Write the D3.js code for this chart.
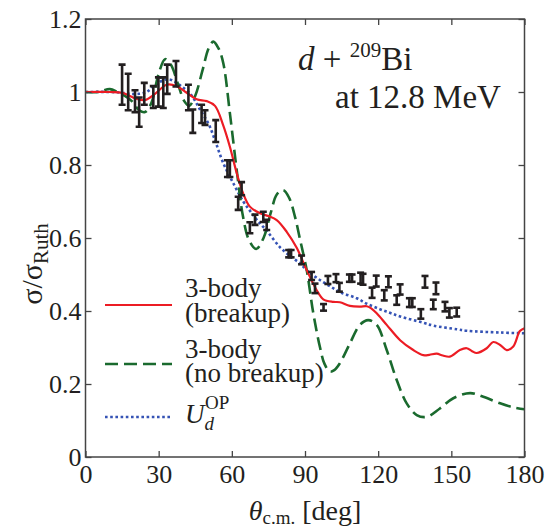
<!DOCTYPE html>
<html>
<head>
<meta charset="utf-8">
<script src="https://cdn.jsdelivr.net/npm/d3@7"></script>
<style>
  body { margin: 0; background: #fff; }
  svg text { font-family: "Liberation Serif", "DejaVu Serif", serif; fill: #231f20; }
</style>
</head>
<body>
<div id="chart"></div>
<script>
// angle ticks and value ticks
var xTicks = [0, 30, 60, 90, 120, 150, 180];
var yTicks = [0, 0.2, 0.4, 0.6, 0.8, 1, 1.2];

// 3-body with breakup [theta, sigma/sigmaRuth]
var breakupCurve = [[0, 1.0], [10, 1.0], [15, 0.998], [18, 0.99], [20.3, 0.983], [24.4, 0.978],
  [28.5, 0.995], [33.3, 1.02], [37.4, 1.016], [41.5, 0.998], [45.6, 0.98], [49.7, 0.975],
  [53.1, 0.962], [56.4, 0.91], [59.2, 0.85], [62, 0.778], [64.6, 0.723], [67.4, 0.686],
  [71.5, 0.668], [75, 0.66], [78.4, 0.649], [82.5, 0.617], [86.6, 0.573], [90.7, 0.512],
  [94.8, 0.457], [97.5, 0.432], [101.6, 0.425], [104.3, 0.424], [108.4, 0.414], [112.5, 0.412],
  [115.3, 0.413], [117, 0.408], [119.4, 0.394], [123.5, 0.362], [129, 0.32], [134.4, 0.293],
  [138.5, 0.279], [141, 0.28], [144, 0.283], [146.5, 0.278], [149.4, 0.275], [153.5, 0.293],
  [156.3, 0.298], [158.5, 0.29], [160.4, 0.285], [164.5, 0.298], [167.2, 0.315], [170, 0.307],
  [172.7, 0.293], [175.4, 0.303], [178.1, 0.345], [180, 0.353]];

// 3-body without breakup
var noBreakupCurve = [[0, 1.0], [5, 1.0], [10, 1.008], [13, 1.0], [16, 0.99], [19, 0.975],
  [22, 0.95], [24.4, 0.945], [27, 0.97], [30, 1.05], [32.6, 1.09], [35, 1.075], [38, 1.02],
  [40.5, 0.975], [42.5, 0.962], [45, 0.99], [48, 1.06], [50.5, 1.12], [52.4, 1.138], [54.5, 1.12],
  [56.5, 1.079], [59.2, 0.942], [62, 0.786], [64.6, 0.658], [67, 0.595], [70, 0.57], [73, 0.6],
  [76, 0.67], [78.5, 0.72], [81.1, 0.731], [83.5, 0.71], [85.9, 0.658], [88, 0.595], [90.7, 0.512],
  [93.4, 0.394], [96.1, 0.302], [98, 0.255], [100.2, 0.234], [102, 0.238], [104.3, 0.257],
  [108.4, 0.311], [112.5, 0.362], [115.9, 0.375], [119.4, 0.362], [123.5, 0.293], [127.6, 0.211],
  [131.7, 0.147], [135.8, 0.115], [139.9, 0.11], [145.3, 0.133], [150.8, 0.161], [157.7, 0.175],
  [163.1, 0.165], [170, 0.147], [175.4, 0.136], [180, 0.131]];

// optical potential U_d^OP
var opCurve = [[0, 1.0], [10, 1.0], [15, 0.998], [18, 0.995], [22, 0.995], [25, 1.0], [28, 1.015],
  [31.2, 1.03], [34, 1.035], [36.7, 1.028], [40, 1.012], [42.8, 0.996], [45, 0.975], [47, 0.951],
  [49, 0.93], [51, 0.905], [53.5, 0.86], [56.5, 0.805], [60.6, 0.75], [64.7, 0.7], [67.4, 0.675],
  [70.2, 0.65], [74.3, 0.62], [79.7, 0.575], [84, 0.55], [88, 0.53], [90.7, 0.512], [95, 0.49],
  [100.2, 0.468], [105, 0.45], [111.2, 0.435], [115.3, 0.42], [120.7, 0.405], [124.8, 0.395],
  [129, 0.385], [138.5, 0.368], [142.6, 0.36], [152.2, 0.35], [156.3, 0.346], [170, 0.341],
  [180, 0.339]];

// measured points [theta, value, error]
var expData = [[15, 1.02, 0.055], [17.5, 1.0, 0.05], [20.3, 0.975, 0.03], [22, 0.945, 0.04],
  [24.1, 0.995, 0.03], [27.8, 0.986, 0.03], [29.9, 1.0, 0.04], [31.9, 0.998, 0.042],
  [33.5, 1.035, 0.04], [37.1, 1.05, 0.035], [42.2, 0.985, 0.035], [44, 0.92, 0.032],
  [47.6, 0.94, 0.025], [49, 0.93, 0.02], [53.4, 0.893, 0.03], [58.2, 0.79, 0.023],
  [59.2, 0.79, 0.023], [62.6, 0.695, 0.018], [64, 0.735, 0.018], [67.4, 0.628, 0.015],
  [69.5, 0.65, 0.014], [72.9, 0.658, 0.014], [74.3, 0.636, 0.014], [83.3, 0.557, 0.01],
  [84.3, 0.557, 0.01], [88.6, 0.54, 0.012], [92.7, 0.496, 0.011], [94.1, 0.462, 0.013],
  [97.6, 0.41, 0.009], [99.4, 0.485, 0.011], [102.7, 0.49, 0.011], [104.1, 0.465, 0.012],
  [108.2, 0.49, 0.01], [109.3, 0.49, 0.01], [112.8, 0.49, 0.015], [113.8, 0.487, 0.015],
  [117.5, 0.45, 0.014], [119.2, 0.482, 0.015], [122.5, 0.443, 0.014], [124.2, 0.48, 0.015],
  [127.6, 0.43, 0.013], [129, 0.459, 0.014], [132.8, 0.423, 0.012], [134, 0.423, 0.012],
  [137.5, 0.392, 0.013], [139.2, 0.48, 0.016], [142.6, 0.418, 0.013], [143.7, 0.462, 0.016],
  [147.4, 0.412, 0.013], [149.2, 0.395, 0.013], [152.2, 0.397, 0.012]];

var width = 545, height = 527;
var plotLeft = 85.5, plotRight = 524.5, plotTop = 19, plotBottom = 457;
var red = "#ec1c24", green = "#1a6a2e", blue = "#3553b5";

var svg = d3.select("#chart").append("svg")
    .attr("width", width)
    .attr("height", height);

var x = d3.scaleLinear().domain([0, 180]).range([plotLeft, plotRight]);
var y = d3.scaleLinear().domain([0, 1.2]).range([plotBottom, plotTop]);

svg.append("defs").append("clipPath").attr("id", "clip")
    .append("rect").attr("x", plotLeft).attr("y", plotTop)
    .attr("width", plotRight - plotLeft).attr("height", plotBottom - plotTop);

var line = d3.line()
    .x(function (d) { return x(d[0]); })
    .y(function (d) { return y(d[1]); })
    .curve(d3.curveCatmullRom.alpha(0.5));

var plot = svg.append("g").attr("clip-path", "url(#clip)");

plot.append("path").datum(opCurve)
    .attr("d", line).attr("fill", "none")
    .attr("stroke", blue).attr("stroke-width", 2.6)
    .attr("stroke-dasharray", "2.6,2.6");
plot.append("path").datum(noBreakupCurve)
    .attr("d", line).attr("fill", "none")
    .attr("stroke", green).attr("stroke-width", 2.6)
    .attr("stroke-dasharray", "13,6");
plot.append("path").datum(breakupCurve)
    .attr("d", line).attr("fill", "none")
    .attr("stroke", red).attr("stroke-width", 2.2);

// error bars
var bars = plot.append("g").attr("stroke", "#231f20").attr("stroke-width", 2.6);
expData.forEach(function (d) {
    var cx = x(d[0]), y1 = y(d[1] - d[2]), y2 = y(d[1] + d[2]);
    bars.append("line").attr("x1", cx).attr("x2", cx).attr("y1", y1).attr("y2", y2);
    bars.append("line").attr("x1", cx - 3.5).attr("x2", cx + 3.5).attr("y1", y1).attr("y2", y1);
    bars.append("line").attr("x1", cx - 3.5).attr("x2", cx + 3.5).attr("y1", y2).attr("y2", y2);
});

// axes, ticks pointing inwards
function styleAxis(g) {
    g.select(".domain").remove();
    g.selectAll(".tick line").attr("stroke", "#444").attr("stroke-width", 1.3);
    g.selectAll(".tick text").attr("font-size", 26)
        .attr("font-family", "Liberation Serif, serif").attr("fill", "#231f20");
}
svg.append("g").attr("transform", "translate(0," + plotBottom + ")")
    .call(d3.axisBottom(x).tickValues(xTicks).tickSizeInner(-6).tickSizeOuter(0).tickPadding(8)
        .tickFormat(d3.format("d")))
    .call(styleAxis);
svg.append("g").attr("transform", "translate(0," + plotTop + ")")
    .call(d3.axisTop(x).tickValues(xTicks).tickSizeInner(-6).tickSizeOuter(0).tickFormat(""))
    .call(styleAxis);
svg.append("g").attr("transform", "translate(" + plotLeft + ",0)")
    .call(d3.axisLeft(y).tickValues(yTicks).tickSizeInner(-6).tickSizeOuter(0).tickPadding(4)
        .tickFormat(function (d) { return d === 0 ? "0" : d === 1 ? "1" : d3.format(".1f")(d); }))
    .call(styleAxis);
svg.append("g").attr("transform", "translate(" + plotRight + ",0)")
    .call(d3.axisRight(y).tickValues(yTicks).tickSizeInner(-6).tickSizeOuter(0).tickFormat(""))
    .call(styleAxis);

svg.append("rect")
    .attr("x", plotLeft).attr("y", plotTop)
    .attr("width", plotRight - plotLeft).attr("height", plotBottom - plotTop)
    .attr("fill", "none").attr("stroke", "#444").attr("stroke-width", 1.5);

// axis titles
var xt = svg.append("text").attr("x", 305).attr("y", 520)
    .attr("text-anchor", "middle").attr("font-size", 28);
xt.append("tspan").attr("font-style", "italic").text("θ");
xt.append("tspan").attr("font-size", 19).attr("dy", 4).text("c.m.");
xt.append("tspan").attr("dy", -4).text(" [deg]");

var yt = svg.append("text")
    .attr("transform", "translate(42,264) rotate(-90)")
    .attr("text-anchor", "middle").attr("font-size", 30);
yt.append("tspan").text("σ/σ");
yt.append("tspan").attr("font-size", 21).attr("dy", 6).text("Ruth");

// reaction label
var t1 = svg.append("text").attr("x", 298).attr("y", 70).attr("font-size", 33);
t1.append("tspan").attr("font-style", "italic").text("d");
t1.append("tspan").text(" + ");
t1.append("tspan").attr("font-size", 21).attr("dy", -13).text("209");
t1.append("tspan").attr("dy", 13).text("Bi");
svg.append("text").attr("x", 335).attr("y", 108).attr("font-size", 33).text("at 12.8 MeV");

// legend
var legend = svg.append("g");
legend.append("line").attr("x1", 105).attr("x2", 172).attr("y1", 305).attr("y2", 305)
    .attr("stroke", red).attr("stroke-width", 2.2);
legend.append("line").attr("x1", 105).attr("x2", 172).attr("y1", 364).attr("y2", 364)
    .attr("stroke", green).attr("stroke-width", 2.6).attr("stroke-dasharray", "13,6");
legend.append("line").attr("x1", 105).attr("x2", 172).attr("y1", 417).attr("y2", 417)
    .attr("stroke", blue).attr("stroke-width", 2.6).attr("stroke-dasharray", "2.6,2.6");

[["3-body", 297], ["(breakup)", 322], ["3-body", 358], ["(no breakup)", 382]].forEach(function (l) {
    legend.append("text").attr("x", 185).attr("y", l[1]).attr("font-size", 27).text(l[0]);
});
var u = legend.append("text").attr("x", 185).attr("y", 423).attr("font-size", 27);
u.append("tspan").attr("font-style", "italic").text("U");
u.append("tspan").attr("font-style", "italic").attr("font-size", 19).attr("dy", 7).text("d");
u.append("tspan").attr("font-size", 19).attr("dx", -9).attr("dy", -21).text("OP");
</script>
</body>
</html>
